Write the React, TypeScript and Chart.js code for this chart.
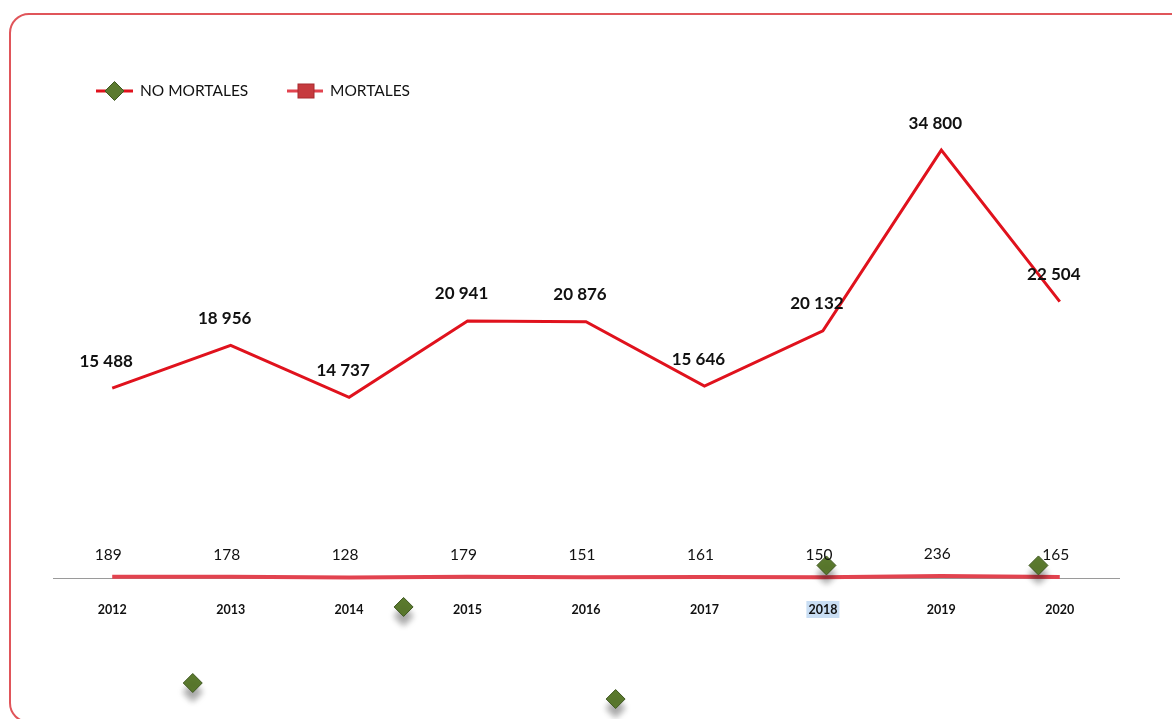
import React, { useEffect, useRef } from 'react';
import { Chart, registerables } from 'chart.js';

Chart.register(...registerables);

const years = ['2012', '2013', '2014', '2015', '2016', '2017', '2018', '2019', '2020'];
const noMortales = [15488, 18956, 14737, 20941, 20876, 15646, 20132, 34800, 22504];
const mortales = [189, 178, 128, 179, 151, 161, 150, 236, 165];
// stray diamond markers visible in the picture (x in category-index units)
const strayX = [0.68, 2.46, 4.25, 6.03, 7.82];
const strayY = [-8440, -2270, -9740, 1100, 1100];
const seriesNames = ['NO MORTALES', 'MORTALES'];
const highlightedTick = '2018';

const FONT = 'Lato, "Noto Sans", sans-serif';
const RED = '#e0121d';
const RED_SOFT = '#e2434f';
const GREEN = '#5b7a2e';
const GREEN_DARK = '#3e5720';

const fmt = (n: number) => String(n).replace(/\B(?=(\d{3})+(?!\d))/g, ' ');

const labelsPlugin = {
  id: 'valueLabels',
  afterDatasetsDraw(chart: any) {
    const ctx = chart.ctx;
    ctx.save();
    ctx.textAlign = 'center';
    ctx.textBaseline = 'middle';
    ctx.fillStyle = '#111';
    const m0 = chart.getDatasetMeta(0);
    ctx.font = `bold 17px ${FONT}`;
    m0.data.forEach((pt: any, i: number) => {
      ctx.fillText(fmt(noMortales[i]), pt.x - 6, pt.y - 27);
    });
    const m1 = chart.getDatasetMeta(1);
    ctx.font = `15.5px ${FONT}`;
    m1.data.forEach((pt: any, i: number) => {
      ctx.fillText(fmt(mortales[i]), pt.x - 4, pt.y - 22);
    });
    ctx.restore();
  },
};

const legendPlugin = {
  id: 'customLegend',
  afterDraw(chart: any) {
    const ctx = chart.ctx;
    ctx.save();
    const y = 91;
    ctx.strokeStyle = RED;
    ctx.lineWidth = 3;
    ctx.beginPath();
    ctx.moveTo(96, y);
    ctx.lineTo(133, y);
    ctx.stroke();
    ctx.fillStyle = GREEN;
    ctx.strokeStyle = GREEN_DARK;
    ctx.lineWidth = 1;
    ctx.beginPath();
    ctx.moveTo(105, y);
    ctx.lineTo(114.5, y - 9.5);
    ctx.lineTo(124, y);
    ctx.lineTo(114.5, y + 9.5);
    ctx.closePath();
    ctx.fill();
    ctx.stroke();
    ctx.strokeStyle = RED_SOFT;
    ctx.lineWidth = 3;
    ctx.beginPath();
    ctx.moveTo(287, y);
    ctx.lineTo(323, y);
    ctx.stroke();
    ctx.fillStyle = '#c63a3e';
    ctx.strokeStyle = '#a82a2e';
    ctx.lineWidth = 1;
    ctx.fillRect(298, y - 7, 16, 14);
    ctx.strokeRect(298, y - 7, 16, 14);
    ctx.fillStyle = '#111';
    ctx.font = `15.5px ${FONT}`;
    ctx.textBaseline = 'middle';
    ctx.textAlign = 'left';
    ctx.fillText(seriesNames[0], 140, y);
    ctx.fillText(seriesNames[1], 330, y);
    ctx.restore();
  },
};

const shadowPlugin = {
  id: 'strayShadow',
  beforeDatasetDraw(chart: any, args: any) {
    if (args.index === 2) {
      const ctx = chart.ctx;
      ctx.save();
      ctx.shadowColor = 'rgba(0,0,0,0.35)';
      ctx.shadowBlur = 6;
      ctx.shadowOffsetY = 9;
    }
  },
  afterDatasetDraw(chart: any, args: any) {
    if (args.index === 2) chart.ctx.restore();
  },
};

export default function App() {
  const ref = useRef<HTMLCanvasElement | null>(null);

  useEffect(() => {
    if (!ref.current) return;
    const chart = new Chart(ref.current, {
      type: 'line',
      data: {
        labels: years,
        datasets: [
          {
            label: seriesNames[0],
            data: noMortales,
            borderColor: RED,
            borderWidth: 3,
            pointRadius: 0,
            tension: 0,
            xAxisID: 'x',
            yAxisID: 'y',
          },
          {
            label: seriesNames[1],
            data: mortales,
            borderColor: RED_SOFT,
            borderWidth: 4,
            pointRadius: 0,
            tension: 0,
            xAxisID: 'x',
            yAxisID: 'y',
          },
          {
            type: 'scatter',
            label: 'stray',
            data: strayX.map((x, i) => ({ x, y: strayY[i] })),
            pointStyle: 'rectRot',
            pointRadius: 9.5,
            backgroundColor: GREEN,
            borderColor: GREEN_DARK,
            borderWidth: 1,
            xAxisID: 'x2',
            yAxisID: 'y',
            clip: false,
            order: -1,
          } as any,
        ],
      },
      options: {
        responsive: true,
        maintainAspectRatio: false,
        animation: false,
        layout: { padding: { top: 86, left: 53, right: 53, bottom: 10.6 } },
        plugins: {
          legend: { display: false },
          tooltip: { enabled: false },
        },
        scales: {
          x: {
            type: 'category',
            position: { y: 0 } as any,
            offset: true,
            grid: { display: false },
            border: { display: true, color: '#9a9a9a', width: 1 },
            ticks: {
              color: '#111',
              font: { family: FONT, size: 12.5, weight: 'bold' },
              padding: 15,
              maxRotation: 0,
              autoSkip: false,
              showLabelBackdrop: (c: any) => years[c.index] === highlightedTick,
              backdropColor: (c: any) => (years[c.index] === highlightedTick ? '#c9def4' : 'rgba(0,0,0,0)'),
              backdropPadding: { left: 2, right: 2, top: 1, bottom: 1 },
            } as any,
          },
          x2: {
            type: 'linear',
            display: false,
            min: -0.5,
            max: 8.5,
          },
          y: {
            display: false,
            min: -10500,
            max: 40000,
          },
        },
      },
      plugins: [labelsPlugin, legendPlugin, shadowPlugin],
    });
    return () => chart.destroy();
  }, []);

  return (
    <div style={{ position: 'fixed', left: 0, top: 0, width: 1172, height: 719, overflow: 'hidden', background: '#fff' }}>
      <div
        style={{
          position: 'absolute',
          left: 9,
          top: 13,
          width: 1220,
          height: 710,
          border: '2px solid #e0555a',
          borderRadius: 20,
          boxSizing: 'border-box',
        }}
      />
      <div style={{ position: 'absolute', left: 0, top: 0, width: 1172, height: 719 }}>
        <canvas ref={ref} />
      </div>
    </div>
  );
}
